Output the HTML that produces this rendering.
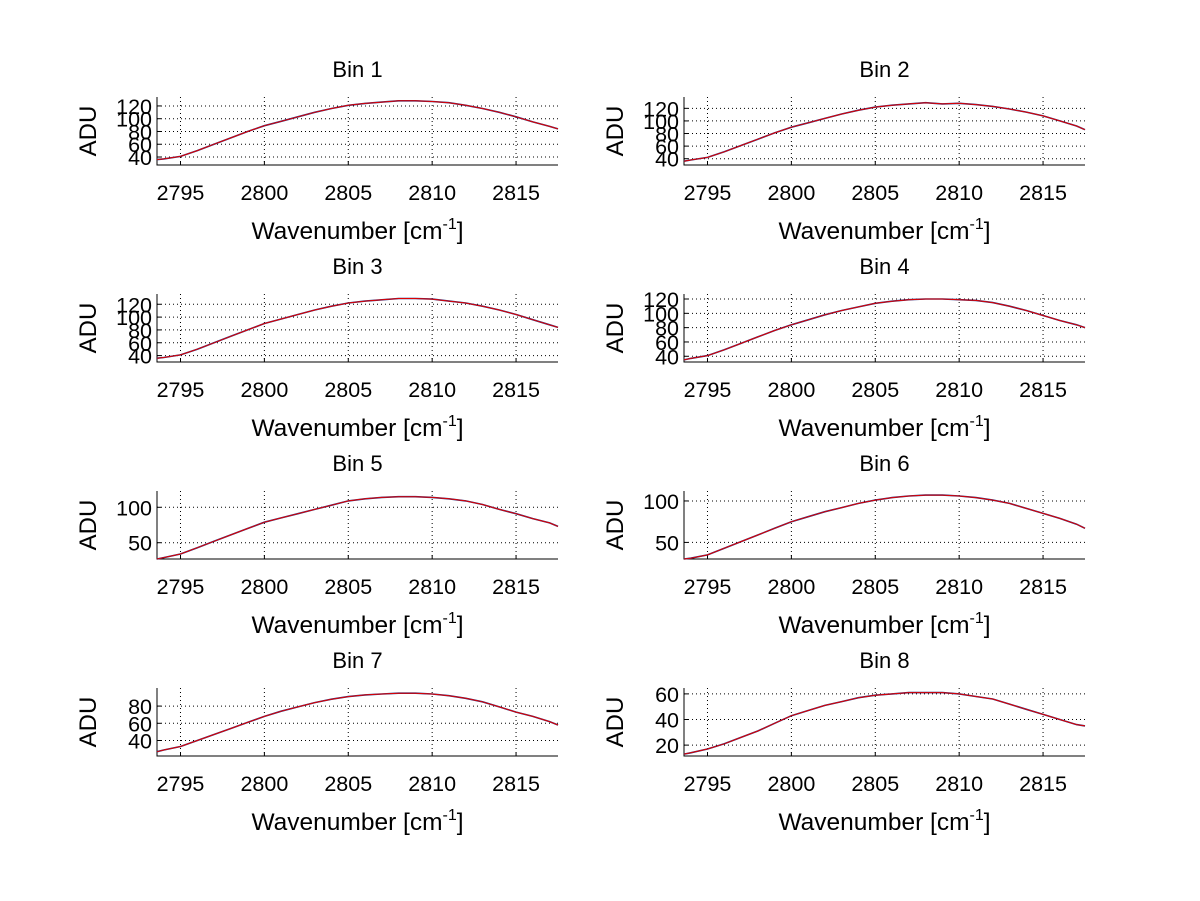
<!DOCTYPE html>
<html><head><meta charset="utf-8"><style>
body{margin:0;background:#fff}
svg{display:block;font-family:"Liberation Sans",sans-serif}
</style></head><body>
<svg id="c" width="1200" height="901"></svg>
<script>
const xs=[2793.6,2794,2795,2796,2797,2798,2799,2800,2801,2802,2803,2804,2805,2806,2807,2808,2809,2810,2811,2812,2813,2814,2815,2816,2817,2817.5];
const bin1=[36,37,41,50,60,70,80,89,96,103,110,116,121,124,126,128,128,127,125,121,116,110,103,95,88,84];
const bin2=[36,38,42,51,61,71,81,90,97,104,111,117,122,125,127,129,127,128,126,123,119,114,108,100,92,86];
const bin3=[36,37,41,50,60,70,80,90,97,104,111,117,122,125,127,129,129,128,125,122,117,111,104,96,88,84];
const bin4=[35,37,41,49,58,67,76,84,91,98,104,109,114,117,119,120,120,119,118,115,110,104,97,90,84,80];
const bin5=[27,29,34,43,52,61,70,79,85,91,97,103,109,112,114,115,115,114,112,109,104,97,91,84,78,73];
const bin6=[30,31,35,43,51,59,67,75,81,87,92,97,101,104,106,107,107,106,104,101,97,91,85,79,72,67];
const bin7=[27,29,33,40,47,54,61,68,74,79,84,88,91,93,94,95,95,94,92,89,85,79,73,68,62,58];
const bin8=[13,14,17,21,26,31,37,43,47,51,54,57,59,60,61,61,61,60,58,56,52,48,44,40,36,35];
const binSeries=[bin1,bin2,bin3,bin4,bin5,bin6,bin7,bin8];
const yRanges=[[27.5,134],[30,138],[30,136],[32,127],[27,123],[30,112],[22,101],[11.5,64.6]];
const yTicks=[[40,60,80,100,120],[40,60,80,100,120],[40,60,80,100,120],[40,60,80,100,120],[50,100],[50,100],[40,60,80],[20,40,60]];
const xTicks=[2795,2800,2805,2810,2815];
const xMin=2793.6,xMax=2817.5;
const NS='http://www.w3.org/2000/svg';
const svg=document.getElementById('c');
function mk(tag,attrs,parent){const e=document.createElementNS(NS,tag);for(const k in attrs)e.setAttribute(k,attrs[k]);(parent||svg).appendChild(e);return e;}
for(let i=0;i<8;i++){
  const col=i%2,row=Math.floor(i/2);
  const L=col?684:157,R=col?1085:558,T=97+row*197,B=165+row*197;
  const g=mk('g',{});
  
  
  const sx=v=>L+(v-xMin)/(xMax-xMin)*(R-L);
  const [y0,y1]=yRanges[i];
  const sy=v=>B-(v-y0)/(y1-y0)*(B-T);
  xTicks.forEach(t=>{
    const x=sx(t);
    const gl=mk('line',{x1:x,x2:x,y1:T,y2:B,stroke:'#000','stroke-width':1,'stroke-dasharray':'1,3'},g);
    
    
    mk('line',{x1:x,x2:x,y1:B,y2:B-4,stroke:'#000'},g);
    const tl=mk('text',{x:x,y:B+35,'font-size':21.5,'text-anchor':'middle'},g);
    tl.textContent=t;
    
    
  });
  yTicks[i].forEach(t=>{
    const y=sy(t);
    const gl=mk('line',{x1:L,x2:R,y1:y,y2:y,stroke:'#000','stroke-width':1,'stroke-dasharray':'1,3'},g);
    
    
    mk('line',{x1:L,x2:L+4,y1:y,y2:y,stroke:'#000'},g);
    const tl=mk('text',{x:L-5,y:y+8,'font-size':21.5,'text-anchor':'end'},g);
    tl.textContent=t;
    
    
  });
  const ax=mk('path',{d:`M${L},${T}V${B}H${R}`,fill:'none',stroke:'#000','stroke-width':1},g);
  
  
  const pts=xs.map((x,j)=>sx(x).toFixed(1)+','+sy(binSeries[i][j]).toFixed(1)).join(' ');
  const l2=mk('polyline',{points:pts,fill:'none',stroke:'#203080','stroke-width':1.6},g);
  
  
  const l=mk('polyline',{points:pts,fill:'none',stroke:'#e00000','stroke-width':1},g);
  
  
  const cx=(L+R)/2;
  const ti=mk('text',{x:cx,y:T-20,'font-size':22,'text-anchor':'middle'},g);
  ti.textContent='Bin '+(i+1);
  
  
  const xl=mk('text',{x:cx,y:B+74,'font-size':24.5,'text-anchor':'middle'},g);
  xl.innerHTML='Wavenumber [cm<tspan dy="-10" font-size="16">-1</tspan><tspan dy="10">]</tspan>';
  
  
  const yl=mk('text',{x:0,y:0,'font-size':24,'text-anchor':'middle',transform:`translate(${L-61},${(T+B)/2}) rotate(-90)`},g);
  yl.textContent='ADU';
  
  
}
</script>
</body></html>
